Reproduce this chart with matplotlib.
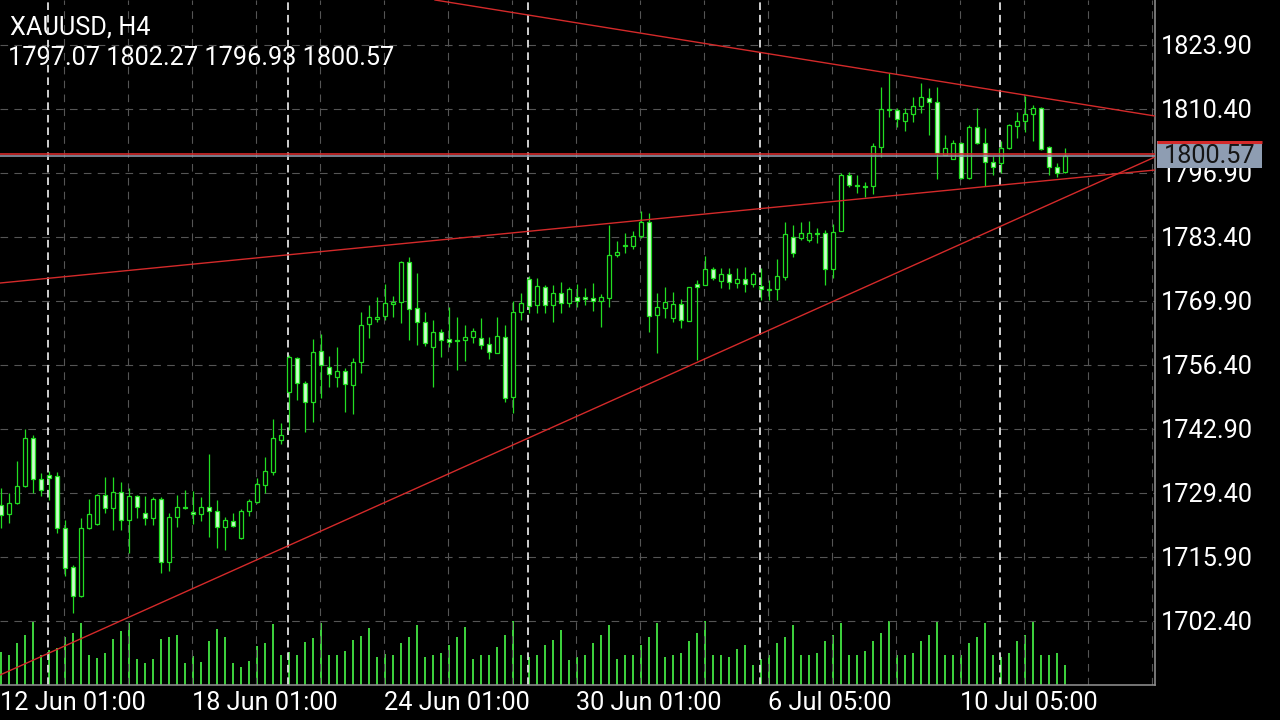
import numpy as np
import matplotlib
matplotlib.use("Agg")
import matplotlib.pyplot as plt
from matplotlib.patches import Rectangle
from matplotlib.transforms import blended_transform_factory

plt.rcParams['font.family'] = ['Roboto', 'DejaVu Sans']
plt.rcParams['lines.scale_dashes'] = False

symbol = "XAUUSD, H4"

# H4 bars, 12 Jun 01:00 .. 14 Jul
opens = [
    1726.9, 1725.0, 1727.3, 1730.9, 1741.0, 1732.4, 1733.2, 1733.0, 1722.0, 1713.8,
    1707.7, 1722.0, 1722.9, 1729.0, 1726.2, 1729.6, 1723.7, 1728.8, 1725.2, 1724.1,
    1728.1, 1714.8, 1724.3, 1726.4, 1725.4, 1725.0, 1726.4, 1725.6, 1722.2, 1723.5,
    1719.9, 1725.6, 1727.5, 1731.1, 1733.8, 1740.6, 1750.7, 1757.9, 1752.6, 1748.6,
    1759.4, 1756.0, 1753.9, 1755.1, 1752.2, 1757.0, 1765.0, 1766.1, 1766.7, 1769.3,
    1769.7, 1778.1, 1768.4, 1765.5, 1760.2, 1763.4, 1761.9, 1761.7, 1761.7, 1762.3,
    1762.1, 1760.8, 1758.9, 1762.3, 1749.7, 1767.6, 1774.5, 1769.1, 1772.9, 1769.1,
    1771.6, 1769.5, 1770.7, 1770.7, 1770.5, 1769.9, 1770.5, 1779.6, 1781.5, 1781.5,
    1783.6, 1786.6, 1766.9, 1768.4, 1766.3, 1769.3, 1765.7, 1773.5, 1773.3, 1776.6,
    1774.1, 1775.6, 1773.7, 1774.5, 1773.5, 1773.1, 1772.4, 1772.4, 1774.9, 1783.4,
    1783.2, 1782.8, 1784.2, 1784.2, 1776.6, 1784.7, 1796.5, 1794.4, 1794.2, 1794.2,
    1802.4, 1810.4, 1810.2, 1807.9, 1809.4, 1811.0, 1812.7, 1811.9, 1800.7, 1799.9,
    1803.2, 1795.8, 1806.6, 1803.2, 1799.2, 1799.0, 1802.2, 1806.8, 1807.9, 1809.4,
    1810.6, 1802.4, 1798.2, 1797.07,
]
highs = [
    1730.5, 1729.4, 1736.2, 1742.9, 1741.6, 1733.6, 1734.0, 1733.8, 1723.7, 1714.2,
    1724.1, 1728.1, 1729.2, 1732.8, 1732.8, 1731.7, 1730.5, 1729.0, 1728.8, 1728.6,
    1728.6, 1725.2, 1729.0, 1730.0, 1729.8, 1728.6, 1737.6, 1727.9, 1724.3, 1725.2,
    1726.0, 1728.1, 1732.6, 1737.0, 1745.0, 1744.2, 1758.5, 1758.1, 1753.0, 1761.9,
    1763.0, 1758.4, 1760.2, 1755.8, 1757.9, 1767.6, 1769.0, 1770.7, 1773.5, 1771.0,
    1778.3, 1779.2, 1775.8, 1767.6, 1765.9, 1764.0, 1768.6, 1766.5, 1764.8, 1764.2,
    1766.3, 1762.3, 1766.5, 1764.8, 1769.9, 1771.6, 1775.2, 1774.8, 1773.3, 1773.3,
    1773.9, 1772.9, 1773.5, 1772.6, 1773.7, 1771.4, 1785.9, 1782.5, 1784.2, 1784.7,
    1788.9, 1788.5, 1771.6, 1772.9, 1771.8, 1770.3, 1772.9, 1774.3, 1779.4, 1777.1,
    1776.9, 1776.9, 1776.9, 1777.1, 1776.0, 1776.9, 1774.3, 1778.8, 1786.6, 1785.9,
    1786.6, 1786.8, 1785.3, 1784.9, 1786.1, 1796.9, 1797.1, 1796.5, 1795.0, 1803.2,
    1815.0, 1818.0, 1810.6, 1810.6, 1812.9, 1815.9, 1814.8, 1815.0, 1804.9, 1803.9,
    1803.4, 1807.0, 1810.6, 1806.4, 1800.5, 1803.6, 1807.2, 1809.8, 1813.1, 1811.2,
    1810.8, 1802.6, 1799.0, 1802.27,
]
lows = [
    1722.0, 1723.1, 1727.1, 1730.7, 1729.4, 1728.8, 1727.9, 1721.0, 1711.9, 1704.1,
    1707.5, 1721.8, 1722.6, 1725.2, 1721.6, 1721.6, 1716.7, 1724.1, 1722.6, 1722.6,
    1712.5, 1712.9, 1722.2, 1726.0, 1722.9, 1723.5, 1720.1, 1717.8, 1717.4, 1722.2,
    1719.7, 1724.5, 1727.3, 1729.4, 1733.2, 1739.7, 1742.7, 1749.0, 1742.3, 1744.4,
    1749.4, 1751.8, 1751.8, 1746.5, 1746.1, 1754.7, 1762.1, 1765.5, 1765.9, 1766.5,
    1765.3, 1761.7, 1760.6, 1760.4, 1751.8, 1758.1, 1760.2, 1755.3, 1757.2, 1761.0,
    1759.8, 1757.7, 1758.9, 1748.6, 1746.3, 1765.9, 1767.4, 1767.4, 1767.4, 1765.5,
    1767.4, 1768.6, 1768.6, 1769.1, 1767.8, 1764.4, 1768.6, 1779.2, 1780.0, 1780.9,
    1783.2, 1763.4, 1758.9, 1766.3, 1765.5, 1764.2, 1765.7, 1757.5, 1773.3, 1774.3,
    1772.6, 1772.4, 1772.6, 1771.8, 1772.9, 1770.1, 1770.1, 1770.1, 1774.3, 1779.2,
    1782.8, 1782.4, 1782.1, 1773.3, 1774.7, 1784.7, 1793.9, 1792.7, 1791.8, 1792.5,
    1800.3, 1808.7, 1806.6, 1805.8, 1807.7, 1809.6, 1804.9, 1795.6, 1800.7, 1799.9,
    1795.6, 1795.6, 1803.0, 1794.2, 1796.5, 1796.9, 1802.0, 1804.3, 1805.6, 1803.6,
    1801.8, 1796.5, 1796.1, 1796.93,
]
closes = [
    1724.8, 1727.3, 1730.9, 1741.0, 1732.4, 1730.0, 1732.6, 1722.0, 1713.6, 1707.7,
    1722.0, 1725.0, 1729.0, 1726.2, 1729.6, 1723.7, 1728.8, 1726.4, 1724.1, 1728.1,
    1714.8, 1724.3, 1726.4, 1726.2, 1725.0, 1726.4, 1725.6, 1722.2, 1723.7, 1722.4,
    1725.6, 1727.7, 1731.3, 1734.0, 1741.0, 1741.6, 1758.1, 1752.6, 1748.6, 1759.2,
    1756.3, 1754.5, 1755.1, 1752.4, 1757.0, 1764.8, 1766.5, 1766.5, 1769.5, 1769.7,
    1778.1, 1768.2, 1765.5, 1761.0, 1763.4, 1761.7, 1761.3, 1761.5, 1762.3, 1763.6,
    1760.6, 1759.1, 1762.5, 1749.4, 1767.6, 1769.5, 1768.8, 1773.1, 1769.1, 1771.6,
    1769.5, 1772.4, 1769.9, 1770.3, 1769.9, 1770.7, 1779.6, 1780.2, 1781.7, 1783.6,
    1786.6, 1766.7, 1768.6, 1769.7, 1769.3, 1765.9, 1772.9, 1772.9, 1776.6, 1774.7,
    1775.6, 1773.9, 1774.5, 1773.5, 1775.6, 1772.4, 1772.2, 1775.2, 1784.0, 1780.0,
    1784.2, 1784.2, 1784.0, 1776.6, 1784.5, 1796.5, 1794.4, 1794.2, 1794.0, 1802.6,
    1810.4, 1810.2, 1808.3, 1809.6, 1811.0, 1812.9, 1811.9, 1801.1, 1802.2, 1803.2,
    1795.8, 1806.6, 1803.2, 1799.2, 1798.2, 1802.2, 1807.0, 1807.9, 1809.4, 1810.6,
    1802.0, 1798.2, 1796.9, 1800.57,
]
# tick volume (relative)
volumes = [
    33, 30, 42, 50, 64, 30, 35, 37, 48, 52, 62, 30, 27, 32, 46, 54, 62, 26, 22, 26,
    46, 48, 50, 22, 29, 23, 44, 56, 48, 22, 18, 24, 39, 42, 61, 30, 33, 30, 43, 47,
    62, 30, 30, 34, 45, 49, 57, 28, 31, 30, 42, 48, 60, 28, 30, 32, 40, 48, 58, 26,
    30, 30, 38, 50, 64, 30, 28, 30, 40, 45, 55, 25, 28, 30, 42, 50, 60, 26, 30, 30,
    40, 48, 62, 28, 30, 32, 44, 52, 64, 30, 30, 28, 36, 40, 20, 26, 30, 42, 48, 60,
    30, 30, 32, 44, 50, 62, 30, 30, 34, 44, 52, 64, 30, 30, 32, 44, 50, 64, 30, 30,
    30, 42, 48, 62, 30, 28, 32, 44, 50, 64, 30, 30, 32, 20,
]

price_levels = [1702.40, 1715.90, 1729.40, 1742.90, 1756.40,
                1769.90, 1783.40, 1796.90, 1810.40, 1823.90]
date_labels = ["12 Jun 01:00", "18 Jun 01:00", "24 Jun 01:00",
               "30 Jun 01:00", "6 Jul 05:00", "10 Jul 05:00"]
date_label_bars = [0, 24, 48, 72, 96, 120]
week_start_bars = [6, 36, 66, 95, 125]

# trend lines as two anchor points (bar, price)
trend_lines = [
    [(54.25, 1833.39), (144.25, 1808.92)],
    [(-0.125, 1691.01), (144.25, 1800.27)],
    [(-0.125, 1773.69), (144.25, 1797.53)],
]
hline_price = 1801.0
bid = closes[-1]

BULL_EDGE = '#22dd22'
BEAR_FACE = '#ccffcc'
RED = '#d42a2a'
GRID = '#555555'
AXIS = '#8a8a8a'
FS = 18.2

fig = plt.figure(figsize=(12.8, 7.2), dpi=100, facecolor='black')
W, H = 1280.0, 720.0
plot_right = 1155
plot_bottom = 685

ax_vol = fig.add_axes([0, (H - plot_bottom) / H, plot_right / W, 70 / H])
ax = fig.add_axes([0, (H - plot_bottom) / H, plot_right / W, plot_bottom / H])
for a in (ax, ax_vol):
    a.set_facecolor('none')
    a.set_xlim(-0.125, (plot_right - 1) / 8.0)

n = len(opens)
x = np.arange(n)

# volume
ax_vol.bar(x, volumes, width=0.15, color='#3ccf3c', linewidth=0)
ax_vol.set_ylim(0, 70)
ax_vol.axis('off')

ax.set_ylim(1688.90, 1833.39)

# grid
for p in price_levels:
    ax.axhline(p, color=GRID, lw=0.8, ls=(0, (5.5, 4.5)), zorder=0)
for k in range(1, 19):
    ax.axvline(8 * k - 0.125, color=GRID, lw=0.8, ls=(0, (5.5, 4.5)), zorder=0)
for b in week_start_bars:
    ax.axvline(b - 0.125, color='#e0e0e0', lw=1.3, ls=(0, (5.5, 3.5)), zorder=1)

# candles
o = np.array(opens)
c = np.array(closes)
bull = c >= o
ax.vlines(x, lows, highs, color=BULL_EDGE, lw=0.9, zorder=2)
body_low = np.minimum(o, c)
body_h = np.maximum(np.abs(c - o), 0.12)
faces = ['black' if b else BEAR_FACE for b in bull]
ax.bar(x, body_h, bottom=body_low, width=0.62, color=faces,
       edgecolor=BULL_EDGE, linewidth=0.9, zorder=3)

# trend lines and horizontal lines
for p1, p2 in trend_lines:
    ax.axline(p1, p2, color=RED, lw=1.0, zorder=4)
ax.axhline(bid, color='#8c96a6', lw=1.2, zorder=4)
ax.axhline(hline_price, color=RED, lw=1.2, zorder=4)

# axes look
for s in ('top', 'left'):
    ax.spines[s].set_visible(False)
ax.spines['right'].set_color(AXIS)
ax.spines['bottom'].set_color(AXIS)
ax.spines['right'].set_linewidth(1.2)
ax.spines['bottom'].set_linewidth(1.2)

ax.yaxis.tick_right()
ax.set_yticks(price_levels)
ax.set_yticklabels(['%.2f' % p for p in price_levels])
ax.set_xticks([b - 0.125 for b in date_label_bars])
ax.set_xticklabels(date_labels, ha='left')
ax.tick_params(axis='both', length=0, colors='white', labelsize=FS)
ax.tick_params(axis='y', pad=4)
ax.tick_params(axis='x', pad=4)
for lbl in ax.get_xticklabels():
    lbl.set_x(lbl.get_position()[0])

# bid price label on the axis (covers part of the 1796.90 label, as on screen)
tr = blended_transform_factory(ax.transAxes, ax.transData)
x0 = 1157 / plot_right
wbox = 105 / plot_right
ax.add_patch(Rectangle((x0, 1797.9), wbox, 5.75, transform=tr,
                       facecolor='#8e9db2', edgecolor='none',
                       clip_on=False, zorder=6))
ax.plot([x0, x0 + wbox], [1803.5, 1803.5], transform=tr, color=RED,
        lw=2.2, clip_on=False, zorder=7, solid_capstyle='butt')
ax.text(x0 + wbox / 2, bid, '%.2f' % bid, transform=tr, ha='center',
        va='center', fontsize=FS, color='#151515', zorder=8)

# header
ohlc = '%.2f %.2f %.2f %.2f' % (opens[-1], highs[-1], lows[-1], closes[-1])
ax.text(10 / plot_right, 1 - 28 / plot_bottom, symbol, transform=ax.transAxes,
        color='white', fontsize=FS, va='center', ha='left', zorder=0.5)
ax.text(8 / plot_right, 1 - 58 / plot_bottom, ohlc, transform=ax.transAxes,
        color='white', fontsize=FS, va='center', ha='left', zorder=0.5)

fig.savefig('out.png', dpi=100, facecolor='black')
